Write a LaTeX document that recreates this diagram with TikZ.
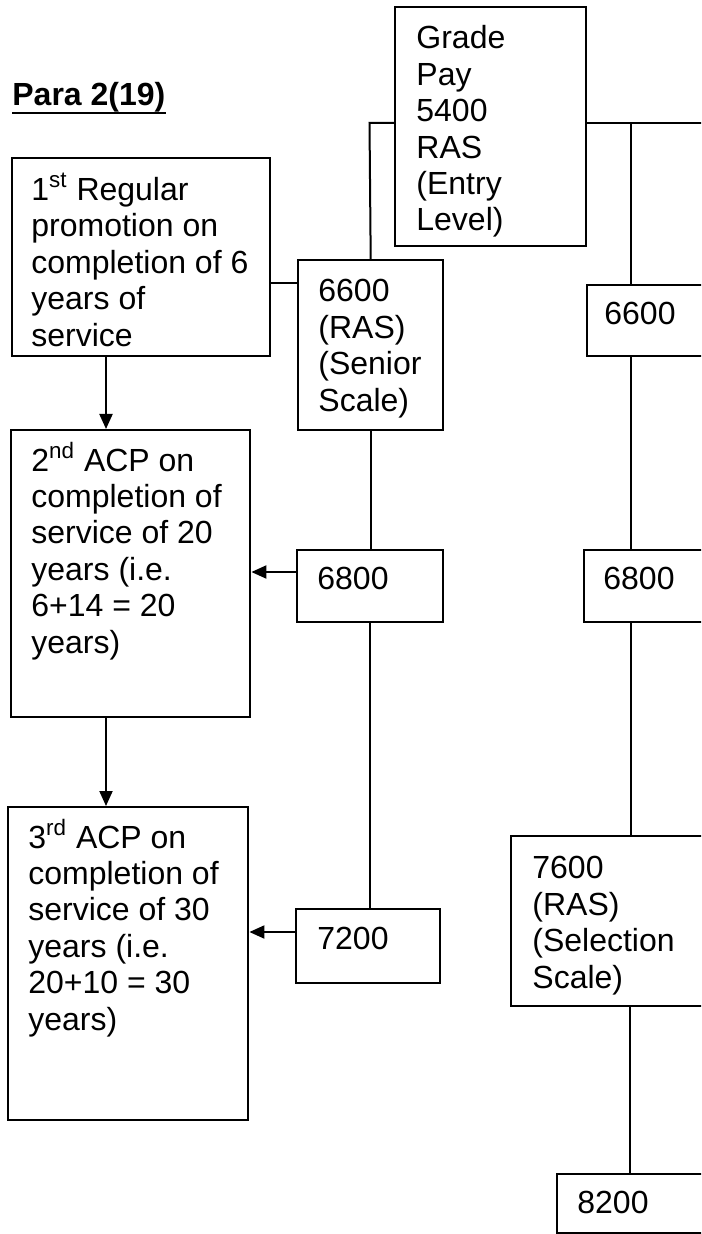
\documentclass[tikz,border=0pt]{standalone}
\usepackage{fontspec}
\setmainfont{Liberation Sans}
\usetikzlibrary{arrows.meta}
\begin{document}
\begin{tikzpicture}[x=0.5pt,y=-0.5pt,
  box/.style={draw, line width=1.2pt, inner sep=0pt, anchor=north west},
  txt/.style={anchor=north west, inner sep=0pt, align=left, font=\fontsize{16}{18.2}\selectfont},
  conn/.style={line width=1pt},
  arr/.style={line width=1pt, -{Triangle[length=7.5pt,width=6.5pt]}}]
\useasboundingbox (0,0) rectangle (701,1234);
\clip (0,0) rectangle (701,1234);
% title
\node[anchor=base west, inner sep=0pt, font=\fontsize{16}{18}\selectfont\bfseries] (title) at (12,106) {Para 2(19)};
\draw[line width=1.4pt] (title.south west) -- (title.south east);
% boxes
\node[box, minimum width=95.5pt, minimum height=119.5pt] (grade) at (394,6) {};
\node[box, minimum width=129pt, minimum height=99pt] (b1) at (11,157) {};
\node[box, minimum width=72.5pt, minimum height=85pt] (s6600) at (297,259) {};
\node[box, minimum width=87pt, minimum height=35.5pt] (r6600) at (586,284) {};
\node[box, minimum width=119.5pt, minimum height=143.5pt] (b2) at (10,429) {};
\node[box, minimum width=73pt, minimum height=36pt] (s6800) at (296,549) {};
\node[box, minimum width=88.5pt, minimum height=36pt] (r6800) at (583,549) {};
\node[box, minimum width=120pt, minimum height=156.5pt] (b3) at (7,806) {};
\node[box, minimum width=72pt, minimum height=37pt] (s7200) at (295,908) {};
\node[box, minimum width=125pt, minimum height=85pt] (r7600) at (510,835) {};
\node[box, minimum width=102pt, minimum height=29.5pt] (r8200) at (556,1173) {};
% texts
\node[txt] (tgrade) at (416,23) {\strut Grade\\Pay\\5400\\RAS\\(Entry\\Level)};
\node[txt] (tb1) at (31,173) {\strut 1\textsuperscript{st} Regular\\promotion on\\completion of 6\\years of\\service};
\node[txt] (ts6600) at (318,276) {\strut 6600\\(RAS)\\(Senior\\Scale)};
\node[txt] (tr6600) at (604,299) {\strut 6600};
\node[txt] (tb2) at (31,442) {\strut 2\textsuperscript{nd} ACP on\\completion of\\service of 20\\years (i.e.\\6+14 = 20\\years)};
\node[txt] (ts6800) at (317,564) {\strut 6800};
\node[txt] (tr6800) at (603,564) {\strut 6800};
\node[txt] (tb3) at (28,819) {\strut 3\textsuperscript{rd} ACP on\\completion of\\service of 30\\years (i.e.\\20+10 = 30\\years)};
\node[txt] (ts7200) at (317,924) {\strut 7200};
\node[txt] (tr7600) at (532,853) {\strut 7600\\(RAS)\\(Selection\\Scale)};
\node[txt] (tr8200) at (577,1188) {\strut 8200};
% junctions
\coordinate (jl) at (369.5,123);
\coordinate (jr) at (631,123);
\coordinate (edge) at (720,123);
% connectors
\draw[conn] (grade.west |- jl) -- (jl) -- (s6600.north);
\draw[conn] (grade.east |- jr) -- (edge);
\draw[conn] (jr) -- (jr |- r6600.north);
\draw[conn] (b1.east |- 0,283) -- (s6600.west |- 0,283);
\draw[arr] (b1.south -| 106,0) -- (b2.north -| 106,0);
\draw[conn] (s6600.south) -- (s6800.north -| s6600.south);
\draw[arr] (s6800.west |- 0,572) -- (b2.east |- 0,572);
\draw[conn] (r6600.south -| jr) -- (r6800.north -| jr);
\draw[conn] (s6800.south -| jl) -- (s7200.north -| jl);
\draw[arr] (b2.south -| 106,0) -- (b3.north -| 106,0);
\draw[arr] (s7200.west |- 0,932) -- (b3.east |- 0,932);
\draw[conn] (r6800.south -| jr) -- (r7600.north -| jr);
\draw[conn] (r7600.south -| 630,0) -- (r8200.north -| 630,0);
\end{tikzpicture}
\end{document}
